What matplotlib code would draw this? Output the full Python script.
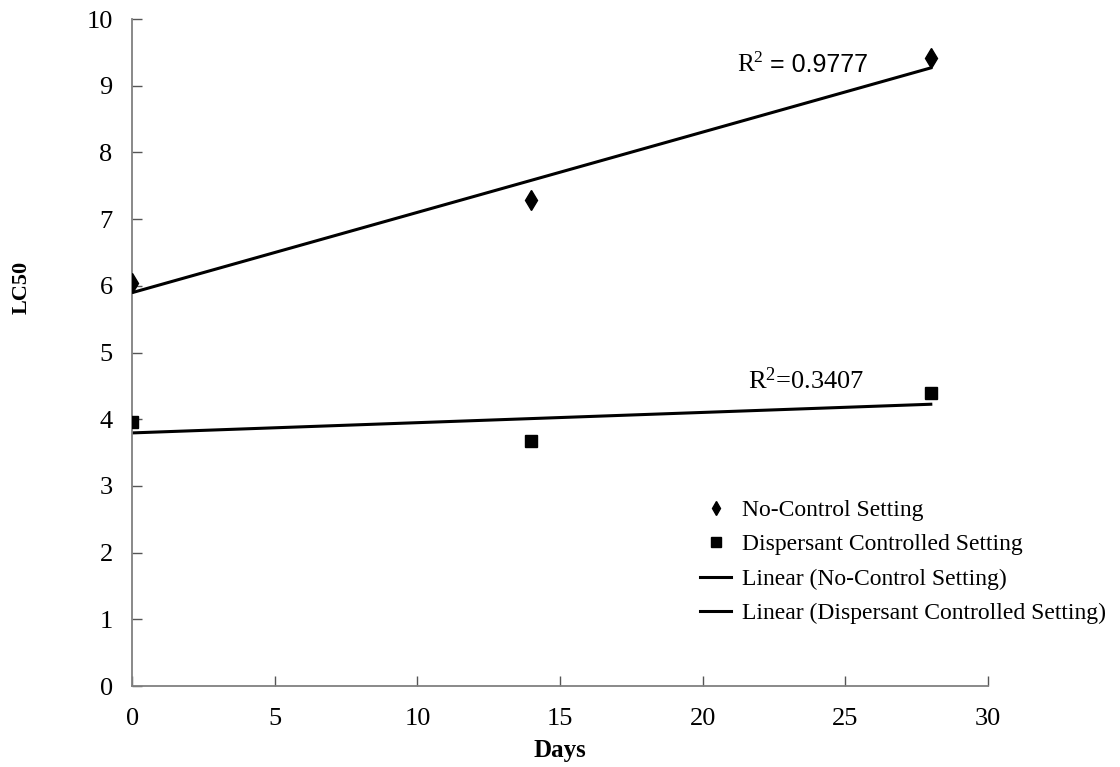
import matplotlib
matplotlib.use("Agg")
import matplotlib.pyplot as plt
import numpy as np

days = [0, 14, 28]
no_control = [6.05, 7.28, 9.42]
dispersant = [3.96, 3.68, 4.39]
r2_labels = ["0.9777", "0.3407"]
x_ticks = [0, 5, 10, 15, 20, 25, 30]
y_ticks = [0, 1, 2, 3, 4, 5, 6, 7, 8, 9, 10]

plt.rcParams['font.family'] = ['Liberation Serif', 'DejaVu Serif']
plt.rcParams['mathtext.fontset'] = 'custom'
plt.rcParams['mathtext.rm'] = 'Liberation Serif'
plt.rcParams['mathtext.it'] = 'Liberation Serif:italic'

fig = plt.figure(figsize=(11.2, 7.67), dpi=100)
ax = fig.add_axes([0.118, 0.1056, 0.764, 0.8695])

x = np.array(days, dtype=float)
ax.plot(days, no_control, linestyle='none', marker='d', color='black',
        markersize=10, label='No-Control Setting', zorder=3)
ax.plot(days, dispersant, linestyle='none', marker='s', color='black',
        markersize=9, label='Dispersant Controlled Setting', zorder=3)

p1 = np.polyfit(x, no_control, 1)
p2 = np.polyfit(x, dispersant, 1)
xf = np.array([0, 28.0])
ax.plot(xf, np.polyval(p1, xf), color='black', lw=2.2,
        label='Linear (No-Control Setting)')
ax.plot(xf, np.polyval(p2, xf), color='black', lw=2.2,
        label='Linear (Dispersant Controlled Setting)')

t1 = ax.text(21.2, 9.2, r'R$^{2}$', fontsize=18, ha='left', va='baseline')
ax.annotate(' = ' + r2_labels[0], xy=(1, 0), xycoords=t1, fontsize=18,
            family='Liberation Sans', ha='left', va='bottom')
ax.text(21.6, 4.45, r'R$^{2}$=' + r2_labels[1], fontsize=19, ha='left', va='baseline')

ax.set_xlim(0, 30)
ax.set_ylim(0, 10)
ax.set_xticks(x_ticks)
ax.set_yticks(y_ticks)
ax.tick_params(direction='in', length=7, width=1, labelsize=19, color='#555555')
ax.tick_params(axis='x', pad=16)
ax.tick_params(axis='y', pad=14)
for s in ['top', 'right']:
    ax.spines[s].set_visible(False)
for s in ['left', 'bottom']:
    ax.spines[s].set_color('#808080')
    ax.spines[s].set_linewidth(1.3)

ax.set_xlabel('Days', fontsize=18, fontweight='bold')
ax.xaxis.set_label_coords(0.5, -0.08)
ax.set_ylabel('LC50', fontsize=16, fontweight='bold')
ax.yaxis.set_label_coords(-0.118, 0.598)

leg = ax.legend(loc='upper left', bbox_to_anchor=(0.653, 0.294), frameon=False,
                fontsize=17, handlelength=1.3, handletextpad=0.45,
                labelspacing=0.55, markerscale=0.75, borderaxespad=0)

fig.savefig('out.png', dpi=100)
